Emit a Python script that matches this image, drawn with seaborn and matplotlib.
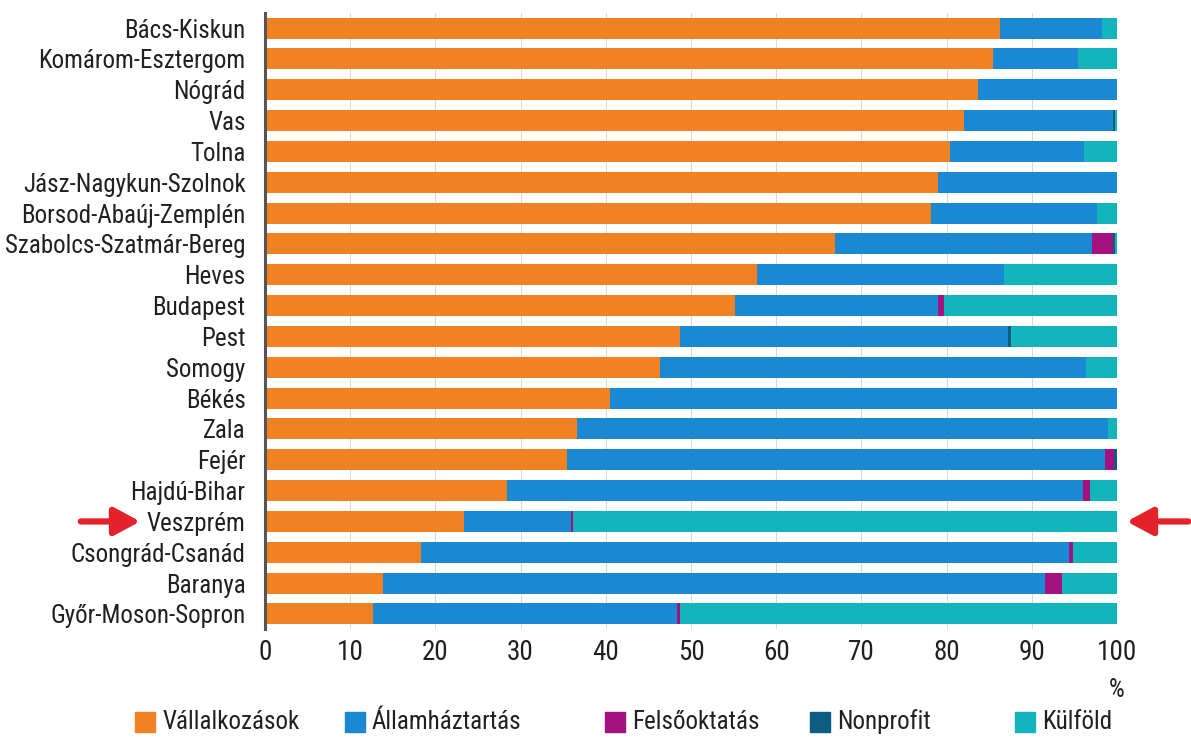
import numpy as np
import pandas as pd
import matplotlib.pyplot as plt
import seaborn as sns
from matplotlib import font_manager

counties = ['Bács-Kiskun', 'Komárom-Esztergom', 'Nógrád', 'Vas', 'Tolna',
            'Jász-Nagykun-Szolnok', 'Borsod-Abaúj-Zemplén', 'Szabolcs-Szatmár-Bereg',
            'Heves', 'Budapest', 'Pest', 'Somogy', 'Békés', 'Zala', 'Fejér',
            'Hajdú-Bihar', 'Veszprém', 'Csongrád-Csanád', 'Baranya', 'Győr-Moson-Sopron']

vallalkozasok = [86.3, 85.4, 83.7, 82.0, 80.4, 79.0, 78.2, 66.9, 57.7, 55.2,
                 48.7, 46.4, 40.5, 36.6, 35.4, 28.4, 23.4, 18.3, 13.8, 12.7]
allamhaztartas = [11.9, 10.0, 16.3, 17.5, 15.7, 21.0, 19.4, 30.2, 29.0, 23.8,
                  38.5, 50.0, 59.5, 62.3, 63.2, 67.6, 12.5, 76.1, 77.7, 35.7]
felsooktatas = [0.0, 0.0, 0.0, 0.0, 0.0, 0.0, 0.0, 2.4, 0.0, 0.7,
                0.0, 0.0, 0.0, 0.0, 1.1, 0.8, 0.3, 0.4, 2.1, 0.3]
nonprofit = [0.0, 0.0, 0.0, 0.3, 0.0, 0.0, 0.0, 0.3, 0.0, 0.0,
             0.3, 0.0, 0.0, 0.0, 0.3, 0.0, 0.0, 0.0, 0.0, 0.0]
kulfold = [1.8, 4.6, 0.0, 0.2, 3.9, 0.0, 2.4, 0.2, 13.3, 20.3,
           12.5, 3.6, 0.0, 1.1, 0.0, 3.2, 63.8, 5.2, 6.4, 51.3]

series = ['Vállalkozások', 'Államháztartás', 'Felsőoktatás', 'Nonprofit', 'Külföld']
colors = ['#F08223', '#1B88D3', '#A3127E', '#0C5E80', '#14B4BD']

df = pd.DataFrame({'megye': counties, series[0]: vallalkozasok, series[1]: allamhaztartas,
                   series[2]: felsooktatas, series[3]: nonprofit, series[4]: kulfold})
cum = df[series].cumsum(axis=1)

# pick a narrow font if one is installed
installed = {f.name for f in font_manager.fontManager.ttflist}
narrow = [n for n in ['Liberation Sans Narrow', 'Roboto Condensed', 'Open Sans Condensed',
                      'DejaVu Sans Condensed'] if n in installed]
sns.set_theme(style='white')
if narrow:
    plt.rcParams['font.family'] = [narrow[0], 'DejaVu Sans']
    fs, fx = 18, 19.5
else:
    plt.rcParams['font.family'] = ['DejaVu Sans']
    plt.rcParams['font.stretch'] = 'condensed'
    fs, fx = 14, 15
txt = '#231f20'

fig = plt.figure(figsize=(11.91, 7.40), dpi=100)
ax = fig.add_axes([265 / 1191, 1 - 629.4 / 740, (1117 - 265) / 1191, (629.4 - 12.6) / 740])

# faint grid behind bars
for x in range(10, 101, 10):
    ax.axvline(x, color='#dadada', lw=0.7, zorder=0)

# stacked bars: draw cumulative totals from the outermost inward
for s, c in zip(series[::-1], colors[::-1]):
    sns.barplot(x=cum[s], y=df['megye'], color=c, width=0.68, orient='h',
                saturation=1, linewidth=0, ax=ax, zorder=2)

ax.set_xlim(0, 100)
ax.set_ylim(19.5, -0.5)
ax.set_xticks(range(0, 101, 10))
ax.set_xlabel('')
ax.set_ylabel('')
ax.tick_params(axis='both', length=0, colors=txt)
ax.tick_params(axis='x', pad=7, labelsize=fx)
ax.tick_params(axis='y', pad=14, labelsize=fs)
for side in ['top', 'right', 'bottom']:
    ax.spines[side].set_visible(False)
ax.spines['left'].set_color('#555555')
ax.spines['left'].set_linewidth(2.2)
ax.spines['left'].set_zorder(5)

fig.text(1117 / 1191, 1 - 690 / 740, '%', ha='center', va='center', fontsize=fs, color=txt)

# arrows pointing at Veszprém
vi = counties.index('Veszprém')
arrow = dict(arrowstyle='-|>,head_width=0.7,head_length=1.3', lw=4.5, color='#E3222A')
ax.annotate('', xy=(143 / 1191, vi), xytext=(78 / 1191, vi),
            xycoords=('figure fraction', 'data'), textcoords=('figure fraction', 'data'),
            arrowprops=arrow, annotation_clip=False)
ax.annotate('', xy=(1124 / 1191, vi), xytext=(1191 / 1191, vi),
            xycoords=('figure fraction', 'data'), textcoords=('figure fraction', 'data'),
            arrowprops=arrow, annotation_clip=False)

# legend entries placed like the original
leg_x = [135, 345, 605, 810, 1015]
for lx, s, c in zip(leg_x, series, colors):
    fig.patches.append(plt.Rectangle((lx / 1191, 1 - 732 / 740), 20 / 1191, 20 / 740,
                                     transform=fig.transFigure, color=c))
    fig.text((lx + 27) / 1191, 1 - 722 / 740, s, ha='left', va='center', fontsize=fs, color=txt)

fig.savefig('out.png', dpi=100)
